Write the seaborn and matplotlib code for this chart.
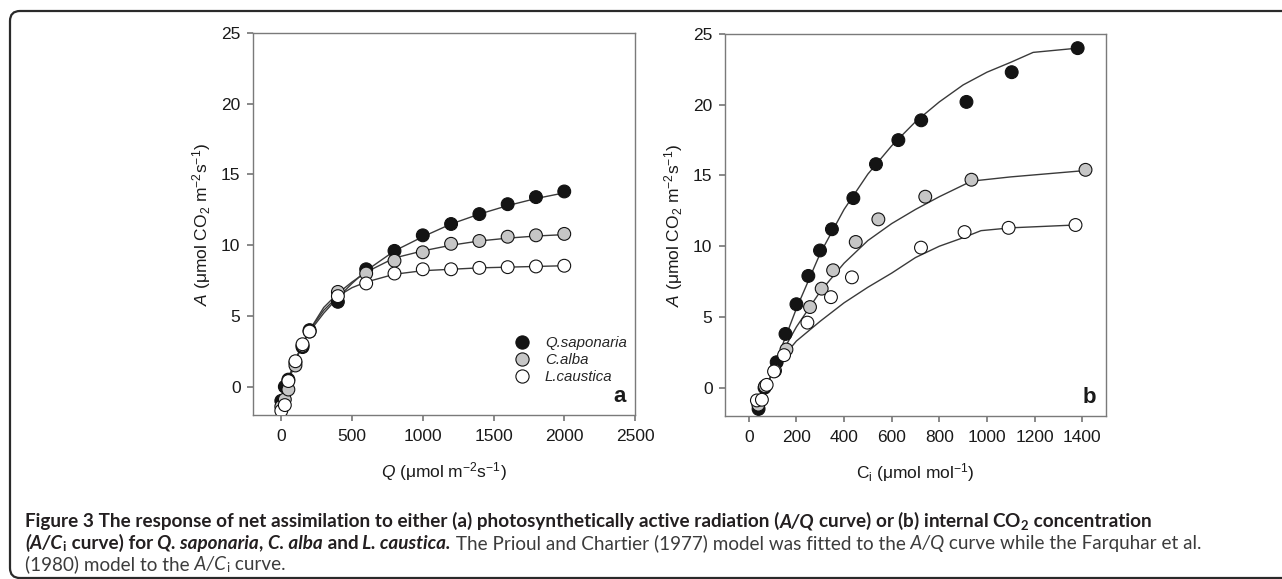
import matplotlib
matplotlib.use('Agg')
import numpy as np
import pandas as pd
import matplotlib.pyplot as plt
import seaborn as sns
from matplotlib.lines import Line2D
from matplotlib.patches import FancyBboxPatch

# %% data
species = ['Q.saponaria', 'C.alba', 'L.caustica']
face = {'Q.saponaria': '#141414', 'C.alba': '#c6c6c6', 'L.caustica': '#ffffff'}

# panel a: A/Q measurements
q_light = [0, 25, 50, 100, 150, 200, 400, 600, 800, 1000, 1200, 1400, 1600, 1800, 2000]
a_q_sap = [-1.0, 0.0, 0.5, 1.7, 2.8, 4.0, 6.0, 8.3, 9.6, 10.7, 11.5, 12.2, 12.9, 13.4, 13.8]
a_q_alb = [-1.4, -0.9, -0.2, 1.5, 2.9, 3.9, 6.7, 8.0, 8.9, 9.5, 10.1, 10.3, 10.6, 10.7, 10.8]
a_q_cau = [-1.7, -1.3, 0.4, 1.8, 3.0, 3.9, 6.4, 7.3, 8.0, 8.3, 8.3, 8.4, 8.45, 8.5, 8.55]

# panel a: fitted curves (Prioul & Chartier)
q_fit = [0, 50, 100, 150, 200, 300, 400, 500, 600, 800, 1000, 1200, 1400, 1600, 1800, 2000]
fit_q_sap = [-1.0, 0.6, 1.9, 3.0, 3.9, 5.2, 6.3, 7.3, 8.2, 9.6, 10.6, 11.5, 12.2, 12.8, 13.3, 13.7]
fit_q_alb = [-1.4, 0.3, 1.8, 3.0, 4.0, 5.6, 6.6, 7.4, 8.1, 9.1, 9.6, 10.0, 10.3, 10.5, 10.65, 10.75]
fit_q_cau = [-1.5, 0.4, 1.9, 3.0, 4.0, 5.4, 6.4, 7.0, 7.4, 7.95, 8.2, 8.3, 8.4, 8.45, 8.5, 8.55]

# panel b: A/Ci measurements
ci_sap = [41, 66, 117, 154, 200, 250, 299, 349, 439, 534, 628, 724, 914, 1104, 1381]
a_ci_sap = [-1.5, 0.0, 1.8, 3.8, 5.9, 7.9, 9.7, 11.2, 13.4, 15.8, 17.5, 18.9, 20.2, 22.3, 24.0]
ci_alb = [40, 68, 110, 158, 257, 306, 354, 449, 544, 741, 935, 1414]
a_ci_alb = [-1.2, 0.1, 1.2, 2.7, 5.7, 7.0, 8.3, 10.3, 11.9, 13.5, 14.7, 15.4]
ci_cau = [34, 55, 75, 106, 148, 246, 345, 433, 723, 906, 1091, 1372]
a_ci_cau = [-0.9, -0.85, 0.2, 1.15, 2.3, 4.6, 6.4, 7.8, 9.9, 11.0, 11.3, 11.5]

# panel b: fitted curves (Farquhar et al.)
ci_fit_sap = [40, 100, 200, 300, 400, 500, 600, 700, 800, 900, 1000, 1100, 1194, 1381]
fit_ci_sap = [-1.5, 1.2, 5.6, 9.5, 12.6, 15.1, 17.1, 18.8, 20.2, 21.4, 22.3, 23.0, 23.7, 24.0]
ci_fit_alb = [40, 100, 150, 200, 300, 400, 500, 600, 700, 800, 935, 1100, 1414]
fit_ci_alb = [-1.2, 1.1, 2.8, 4.3, 6.8, 8.8, 10.4, 11.6, 12.6, 13.5, 14.6, 14.9, 15.35]
ci_fit_cau = [35, 100, 150, 200, 300, 400, 500, 600, 700, 800, 900, 975, 1100, 1372]
fit_ci_cau = [-0.9, 1.0, 2.3, 3.3, 4.7, 6.0, 7.1, 8.1, 9.2, 10.0, 10.6, 11.1, 11.3, 11.5]


def long_df(xs, ys, xname):
    frames = []
    for sp, x, y in zip(species, xs, ys):
        frames.append(pd.DataFrame({xname: x, 'A': y, 'species': sp}))
    return pd.concat(frames, ignore_index=True)


pts_q = long_df([q_light] * 3, [a_q_sap, a_q_alb, a_q_cau], 'x')
fit_q = long_df([q_fit] * 3, [fit_q_sap, fit_q_alb, fit_q_cau], 'x')
pts_ci = long_df([ci_sap, ci_alb, ci_cau], [a_ci_sap, a_ci_alb, a_ci_cau], 'x')
fit_ci = long_df([ci_fit_sap, ci_fit_alb, ci_fit_cau], [fit_ci_sap, fit_ci_alb, fit_ci_cau], 'x')

# %% style
sns.set_theme(style='ticks', rc={
    'axes.edgecolor': '#7a7a7a',
    'axes.linewidth': 1.0,
    'xtick.color': '#7a7a7a',
    'ytick.color': '#7a7a7a',
    'xtick.labelcolor': '#1a1a1a',
    'ytick.labelcolor': '#1a1a1a',
    'xtick.major.size': 4,
    'ytick.major.size': 4,
    'xtick.major.pad': 6,
    'ytick.major.pad': 5,
})
plt.rcParams['font.family'] = ['Liberation Sans', 'DejaVu Sans']
plt.rcParams['mathtext.fontset'] = 'custom'
plt.rcParams['mathtext.rm'] = 'Liberation Sans'
plt.rcParams['mathtext.it'] = 'Liberation Sans:italic'
plt.rcParams['mathtext.bf'] = 'Liberation Sans:bold'
plt.rcParams['mathtext.default'] = 'regular'

fig = plt.figure(figsize=(12.82, 5.79), dpi=100)
ax_a = fig.add_axes([253 / 1282, 1 - 415 / 579, 382 / 1282, 382 / 579])
ax_b = fig.add_axes([725 / 1282, 1 - 416 / 579, 381 / 1282, 382 / 579])

line_pal = {sp: '#3a3a3a' for sp in species}
for ax, pts, fit in [(ax_a, pts_q, fit_q), (ax_b, pts_ci, fit_ci)]:
    sns.lineplot(data=fit, x='x', y='A', hue='species', palette=line_pal,
                 legend=False, linewidth=1.0, ax=ax, zorder=2)
    sns.scatterplot(data=pts, x='x', y='A', hue='species', palette=face,
                    edgecolor='#111111', linewidth=0.8, s=85, legend=False,
                    ax=ax, zorder=3)
    ax.set_ylim(-2, 25)
    ax.set_yticks(range(0, 26, 5))
    ax.tick_params(labelsize=12.5)

ax_a.set_xlim(-200, 2500)
ax_a.set_xticks(range(0, 2501, 500))
ax_b.set_xlim(-100, 1500)
ax_b.set_xticks(range(0, 1401, 200))

ylab = r'$\mathit{A}$ ($\mu$mol CO$_2$ m$^{-2}$s$^{-1}$)'
ax_a.set_ylabel(ylab, fontsize=12.5, labelpad=6, color='#1a1a1a')
ax_b.set_ylabel(ylab, fontsize=12.5, labelpad=6, color='#1a1a1a')
ax_a.set_xlabel(r'$\mathit{Q}$ ($\mu$mol m$^{-2}$s$^{-1}$)', fontsize=12.5, labelpad=12, color='#1a1a1a')
ax_b.set_xlabel(r'C$_i$ ($\mu$mol mol$^{-1}$)', fontsize=12.5, labelpad=12, color='#1a1a1a')

ax_a.text(0.975, 0.022, 'a', transform=ax_a.transAxes, ha='right', va='bottom',
          fontsize=16, fontweight='bold', color='#1a1a1a')
ax_b.text(0.975, 0.022, 'b', transform=ax_b.transAxes, ha='right', va='bottom',
          fontsize=16, fontweight='bold', color='#1a1a1a')

handles = [Line2D([], [], ls='none', marker='o', markersize=9.5,
                  markerfacecolor=face[sp], markeredgecolor='#111111',
                  markeredgewidth=0.8, label=sp) for sp in species]
leg = ax_a.legend(handles=handles, loc='upper left', bbox_to_anchor=(0.65, 0.222),
                  frameon=False, handletextpad=0.5, labelspacing=0.2,
                  prop={'style': 'italic', 'size': 10.8}, borderaxespad=0)

# %% caption frame
frame = FancyBboxPatch((10, 1), 1400, 567, boxstyle='round,pad=0,rounding_size=10',
                       transform=None, facecolor='none', edgecolor='#2a2a2a',
                       linewidth=1.6)
fig.add_artist(frame)

# %% caption
cap_font = ['Lato', 'DejaVu Sans']
line1 = [('Figure 3', 'bold', 'normal'),
         (' The response of net assimilation to either (a) photosynthetically active radiation (', 'bold', 'normal'),
         ('A/Q', 'bold', 'italic'),
         (' curve) or (b) internal CO$_2$', 'bold', 'normal'),
         (' concentration', 'bold', 'normal')]
line2 = [('(A/C', 'bold', 'italic'),
         ('$_i$', 'bold', 'normal'),
         (' curve) for', 'bold', 'normal'),
         (' Q. saponaria', 'bold', 'italic'),
         (', ', 'bold', 'normal'),
         ('C. alba', 'bold', 'italic'),
         (' and', 'bold', 'normal'),
         (' L. caustica.', 'bold', 'italic'),
         (' The Prioul and Chartier (1977) model was fitted to the', 'normal', 'normal'),
         (' A/Q', 'normal', 'italic'),
         (' curve while the Farquhar et al.', 'normal', 'normal')]
line3 = [('(1980) model to the', 'normal', 'normal'),
         (' A/C', 'normal', 'italic'),
         ('$_i$', 'normal', 'normal'),
         (' curve.', 'normal', 'normal')]

renderer = fig.canvas.get_renderer()


def draw_line(segments, x0, y0, size):
    x = x0
    texts = []
    for s, weight, style in segments:
        col = '#231f20' if weight == 'bold' else '#3c3c3c'
        t = fig.text(x / 1282, 1 - y0 / 579, s, fontsize=size, fontweight=weight,
                     fontstyle=style, family=cap_font, color=col,
                     ha='left', va='baseline')
        bb = t.get_window_extent(renderer)
        x += bb.width
        texts.append(t)
    return x - x0, texts


# size the caption so the first line spans the width seen in the figure
w, tmp = draw_line(line1, 25, 527, 13)
for t in tmp:
    t.remove()
cap_size = 13 * 1120 / w

draw_line(line1, 25, 527, cap_size)
draw_line(line2, 25, 549, cap_size)
draw_line(line3, 25, 570, cap_size)

fig.savefig('out.png', dpi=100)
